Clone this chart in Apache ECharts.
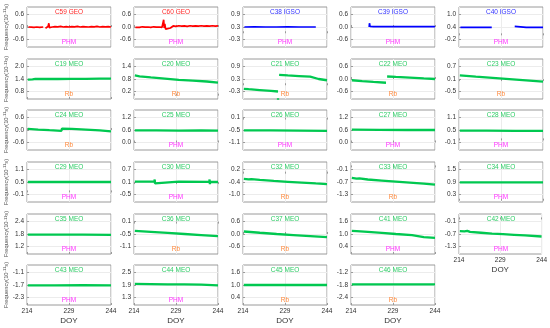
<!DOCTYPE html>
<html><head><meta charset="utf-8">
<script src="https://cdn.jsdelivr.net/npm/echarts@6/dist/echarts.min.js"></script>
<style>html,body{margin:0;padding:0;background:#fff}#c{width:550px;height:328px}</style>
</head><body><div id="c"></div>
<script>
// ---- panel meta ----
const names  = ['C59','C60','C38','C39','C40','C19','C20','C21','C22','C23','C24','C25','C26','C27','C28','C29','C30','C32','C33','C34','C35','C36','C37','C41','C42','C43','C44','C45','C46'];
const orbits = ['GEO','GEO','IGSO','IGSO','IGSO','MEO','MEO','MEO','MEO','MEO','MEO','MEO','MEO','MEO','MEO','MEO','MEO','MEO','MEO','MEO','MEO','MEO','MEO','MEO','MEO','MEO','MEO','MEO','MEO'];
const clocks = ['PHM','PHM','PHM','PHM','PHM','Rb','Rb','Rb','Rb','Rb','Rb','PHM','PHM','PHM','PHM','PHM','PHM','Rb','Rb','PHM','PHM','Rb','Rb','PHM','PHM','PHM','PHM','Rb','Rb'];
const yTicks = [
  [-0.6,0.0,0.6],[-0.6,0.0,0.6],[-0.3,0.3,0.9],[-0.6,0.0,0.6],[-0.2,0.4,1.0],
  [0.8,1.4,2.0],[0.2,0.8,1.4],[-0.3,0.3,0.9],[-0.6,0.0,0.6],[-0.5,0.1,0.7],
  [-0.6,0.0,0.6],[0.0,0.6,1.2],[-1.1,-0.5,0.1],[0.0,0.6,1.2],[-0.1,0.5,1.1],
  [-0.1,0.5,1.1],[-0.5,0.1,0.7],[-1.0,-0.4,0.2],[-1.3,-0.7,-0.1],[0.3,0.9,1.5],
  [1.2,1.8,2.4],[-1.1,-0.5,0.1],[-0.6,0.0,0.6],[0.4,1.0,1.6],[-1.3,-0.7,-0.1],
  [-2.3,-1.7,-1.1],[1.3,1.9,2.5],[0.4,1.0,1.6],[-2.4,-1.8,-1.2]
];
const xTickLabels = [214,229,244];
const xLabelPanels = ['C42','C43','C44','C45','C46'];

// ---- series values: [DOY, frequency] ----
const C59 = [[214.5,0.0],[215,0.02],[215.5,-0.01],[216,0.01],[216.5,-0.02],[217,0.02],[217.5,0.0],[218,0.01],[218.5,-0.02],[219,0.02],[219.8,0.0],[219.9,null],[220.6,-0.06],[221,-0.03],[221.5,0.02],[221.8,0.18],[222,-0.03],[222.5,0.03],[223,0.0],[224,0.02],[225,0.01],[226,0.03],[227,0.0],[228,0.02],[229,0.0],[230,0.02],[231,0.01],[232,0.03],[233,0.0],[234,0.02],[235,0.01],[236,0.0],[237,0.02],[238,0.01],[239,0.03],[240,0.0],[241,0.02],[242,0.01],[243,0.02],[244,0.0]];
const C60 = [[214.5,-0.02],[215,0.0],[216,-0.02],[217,0.01],[218,-0.01],[219,0.0],[220,-0.02],[221,0.01],[222,-0.01],[223,0.0],[224,-0.02],[224.6,0.35],[224.8,-0.05],[225,0.15],[225.3,-0.1],[225.6,-0.05],[226,-0.06],[227,-0.05],[227.3,0.04],[228,0.05],[229,0.03],[230,0.06],[231,0.04],[232,0.05],[233,0.03],[234,0.06],[235,0.04],[236,0.05],[237,0.04],[238,0.06],[239,0.04],[240,0.05],[241,0.04],[242,0.06],[243,0.04],[244,0.05]];
const C38 = [[214.5,0.3],[218,0.31],[222,0.3],[226,0.3],[230,0.31],[234,0.3],[240,0.3]];
const C39 = [[220.5,0.0],[220.6,0.18],[220.8,0.03],[222,0.02],[226,0.02],[230,0.02],[236,0.02],[244,0.02]];
const C40 = [[214.5,0.38],[218,0.38],[222,0.38],[225.7,0.38],[225.8,null],[233.9,0.43],[234.2,0.39],[238,0.38],[244,0.38]];
const C19 = [[214.3,1.37],[215,1.4],[216,1.38],[217,1.41],[220,1.4],[225,1.4],[230,1.41],[235,1.41],[240,1.42],[244,1.42]];
const C20 = [[214.3,0.97],[216,0.93],[220,0.88],[225,0.82],[230,0.76],[235,0.72],[240,0.68],[244,0.63]];
const C21 = [[214.3,-0.17],[216,-0.19],[220,-0.23],[224,-0.27],[226.5,-0.3],[226.55,null],[226.5,-0.62],[226.52,-0.7],[226.6,null],[226.9,0.5],[230,0.47],[234,0.44],[238,0.41],[238.2,0.34],[241,0.3],[244,0.24]];
const C22 = [[214.3,-0.06],[218,-0.1],[222,-0.14],[226.5,-0.18],[226.6,null],[226.9,0.12],[230,0.1],[235,0.07],[240,0.03],[244,0.0]];
const C23 = [[214.3,0.27],[220,0.21],[226,0.15],[232,0.09],[238,0.03],[244,-0.03]];
const C24 = [[214.3,0.05],[218,0.02],[222,-0.01],[226.3,-0.04],[226.5,0.07],[230,0.05],[235,0.02],[240,-0.02],[244,-0.07]];
const C25 = [[214.3,0.58],[222,0.58],[230,0.57],[238,0.58],[244,0.57]];
const C26 = [[214.3,-0.52],[224,-0.52],[234,-0.53],[244,-0.54]];
const C27 = [[214.3,0.62],[224,0.61],[234,0.6],[244,0.6]];
const C28 = [[214.3,0.47],[224,0.47],[234,0.46],[244,0.46]];
const C29 = [[214.3,0.5],[224,0.5],[234,0.5],[244,0.5]];
const C30 = [[214.3,0.12],[221.3,0.12],[221.4,0.22],[221.5,0.03],[221.6,0.12],[230,0.12],[240.9,0.11],[241,0.22],[241.1,0.0],[241.2,0.11],[244,0.1]];
const C32 = [[214.3,-0.25],[215,-0.23],[216,-0.27],[217,-0.26],[220,-0.3],[225,-0.35],[230,-0.39],[235,-0.43],[240,-0.47],[244,-0.5]];
const C33 = [[214.3,-0.5],[216,-0.54],[217,-0.53],[220,-0.58],[225,-0.63],[230,-0.68],[235,-0.73],[240,-0.78],[244,-0.83]];
const C34 = [[214.3,0.88],[224,0.88],[234,0.88],[244,0.88]];
const C35 = [[214.3,1.77],[224,1.77],[234,1.77],[244,1.76]];
const C36 = [[214.3,-0.35],[220,-0.4],[226,-0.45],[232,-0.5],[238,-0.55],[244,-0.6]];
const C37 = [[214.3,0.12],[220,0.06],[226,0.0],[232,-0.05],[238,-0.1],[244,-0.15]];
const C41 = [[214.3,1.15],[216,1.14],[216.5,1.2],[216.6,1.12],[220,1.1],[225,1.05],[230,1.0],[235.8,0.95],[236,0.88],[240,0.85],[244,0.81]];
const C42 = [[214.3,-0.56],[215,-0.54],[216,-0.57],[217,-0.55],[218,-0.6],[222,-0.64],[226,-0.68],[230,-0.71],[234,-0.74],[238,-0.77],[244,-0.82]];
const C43 = [[214.3,-1.72],[224,-1.72],[234,-1.71],[244,-1.72]];
const C44 = [[214.3,1.95],[220,1.94],[226,1.93],[232,1.93],[238,1.92],[244,1.88]];
const C45 = [[214.3,1.0],[224,1.0],[234,1.0],[244,1.0]];
const C46 = [[214.3,-1.77],[224,-1.77],[234,-1.77],[244,-1.77]];
const seriesData = {C59,C60,C38,C39,C40,C19,C20,C21,C22,C23,C24,C25,C26,C27,C28,C29,C30,C32,C33,C34,C35,C36,C37,C41,C42,C43,C44,C45,C46};

// ---- styling ----
const FONT = 'Liberation Sans, Arial, DejaVu Sans, sans-serif';
const lineColor  = {GEO:'#ff0000', IGSO:'#0000ff', MEO:'#00c850'};
const titleColor = {GEO:'#ff2a2a', IGSO:'#3333ff', MEO:'#2ecc66'};
const clockColor = {PHM:'#ff33ff', Rb:'#ff8a3d'};
const lefts = [27,134,243,351,459], tops = [7,59,110,162,214,265], W = 84, H = 40;
const BORDER = '#9a9a9a', GRIDC = '#ececec', TXT = '#303030';

const grid=[], xAxis=[], yAxis=[], series=[], title=[];
names.forEach((n,i)=>{
  const r = Math.floor(i/5), c = i%5;
  const o = orbits[i];
  grid.push({left:lefts[c], top:tops[r], width:W, height:H, show:true, borderColor:BORDER, borderWidth:1, backgroundColor:'transparent', containLabel:false});
  const bottom = xLabelPanels.includes(n);
  xAxis.push({
    gridIndex:i, type:'value', min:214, max:244,
    axisLine:{show:false},
    axisTick:{show:true, inside:true, length:2, customValues:xTickLabels, lineStyle:{color:BORDER}},
    axisLabel:{show:bottom, customValues:xTickLabels, fontSize:6.5, color:TXT, margin:3, fontFamily:FONT},
    splitLine:{show:true, lineStyle:{color:GRIDC, width:1}},
    name: bottom ? 'DOY' : '', nameLocation:'middle', nameGap:12,
    nameTextStyle:{fontSize:8, color:TXT, fontFamily:FONT}
  });
  const t = yTicks[i], mid = (t[0]+t[2])/2;
  yAxis.push({
    gridIndex:i, type:'value', min:mid-0.96, max:mid+0.96,
    axisLine:{show:false},
    axisTick:{show:true, inside:true, length:2, customValues:t, lineStyle:{color:BORDER}},
    axisLabel:{customValues:t, formatter:v=>v.toFixed(1), fontSize:6.5, color:TXT, margin:3, fontFamily:FONT},
    splitLine:{show:true, lineStyle:{color:GRIDC, width:1}},
    name: c===0 ? '{a|Frequency(10}{s|-11}{a|s)}' : '',
    nameLocation:'middle', nameRotate:90, nameGap:17.5,
    nameTextStyle:{color:'#555', fontFamily:FONT, rich:{a:{fontSize:5.8, color:'#555', fontFamily:FONT}, s:{fontSize:4.2, color:'#555', verticalAlign:'top', fontFamily:FONT}}}
  });
  series.push({type:'line', xAxisIndex:i, yAxisIndex:i, data:seriesData[n], showSymbol:false, symbol:'none',
    lineStyle:{width: o==='MEO'?2.3:1.7, color:lineColor[o]}, connectNulls:false, animation:false, silent:true});
  title.push({text:n+' '+o, left:lefts[c]+W/2, top:tops[r]+1.5, padding:0, textAlign:'center',
    textStyle:{fontSize:6.5, fontWeight:'normal', color:titleColor[o], fontFamily:FONT}});
  title.push({text:clocks[i], left:lefts[c]+W/2, top:tops[r]+31.5, padding:0, textAlign:'center',
    textStyle:{fontSize:6.5, fontWeight:'normal', color:clockColor[clocks[i]], fontFamily:FONT}});
});

const chart = echarts.init(document.getElementById('c'), null, {renderer:'canvas'});
chart.setOption({backgroundColor:'#fff', animation:false, title, grid, xAxis, yAxis, series});
</script></body></html>
